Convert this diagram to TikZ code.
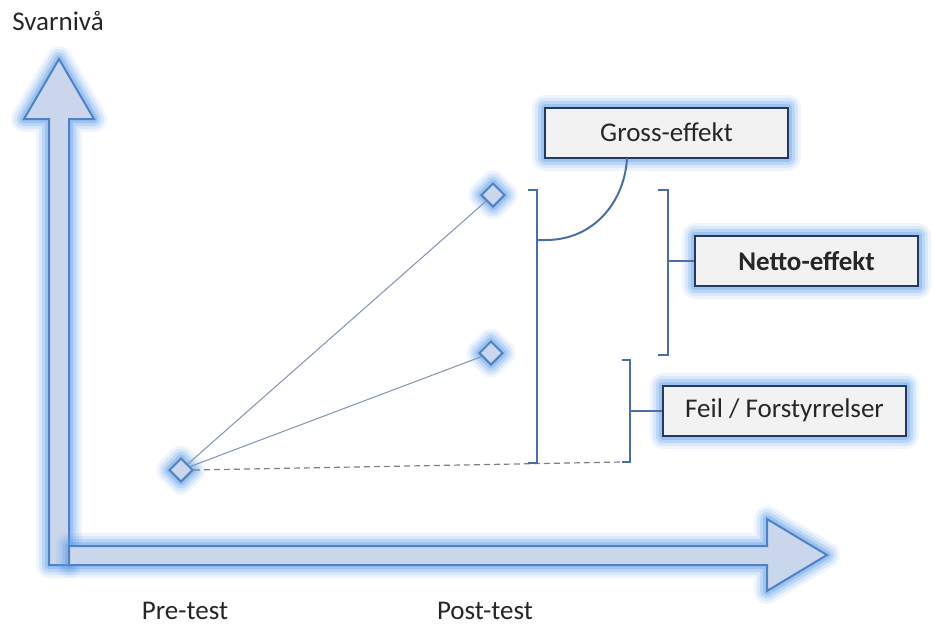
\documentclass[tikz,border=0pt]{standalone}
\usepackage{fontspec}
\setmainfont{Carlito}
\usetikzlibrary{shapes.geometric}
\definecolor{arrowfill}{HTML}{C9D6EC}
\definecolor{arrowline}{HTML}{4F81C7}
\definecolor{glowc}{HTML}{5A9AE8}
\definecolor{boxfill}{HTML}{F2F2F2}
\definecolor{boxline}{HTML}{1F3864}
\definecolor{brackc}{HTML}{4A6FA8}
\definecolor{linkc}{HTML}{8093B0}
\definecolor{txtc}{HTML}{262626}
\tikzset{
  glowing/.style={
    preaction={draw=glowc, line width=13pt, opacity=0.10, line join=round},
    preaction={draw=glowc, line width=10pt, opacity=0.15, line join=round},
    preaction={draw=glowc, line width=7pt, opacity=0.22, line join=round},
    preaction={draw=glowc, line width=4pt, opacity=0.32, line join=round}},
  axisarrow/.style={glowing, fill=arrowfill, draw=arrowline, line width=1pt, line join=miter},
  point/.style={glowing, diamond, draw=arrowline, fill=arrowfill, line width=1pt,
    minimum width=12pt, minimum height=12pt, inner sep=0pt},
  labelbox/.style={glowing, rectangle, draw=boxline, fill=boxfill, line width=1pt,
    minimum height=25pt, inner sep=0pt, text=txtc, font=\fontsize{13.5}{16}\selectfont},
  bracket/.style={draw=brackc, line width=1pt},
  link/.style={draw=linkc, line width=0.5pt},
  plain/.style={text=txtc, font=\fontsize{13.5}{16}\selectfont, inner sep=0pt}
}
\begin{document}
\begin{tikzpicture}[x=0.5pt, y=-0.5pt]
\useasboundingbox (0,0) rectangle (933,628);
% axes
\draw[axisarrow] (49,565) -- (49,119) -- (24,119) -- (59,59) -- (94,119) -- (69,119) -- (69,565) -- cycle;
\draw[axisarrow] (69,546) -- (767,546) -- (767,519) -- (827,555) -- (767,591) -- (767,565) -- (69,565) -- cycle;
% axis labels
\node[plain] (svar) at (58,21) {Svarnivå};
\node[plain] (pre) at (185,611) {Pre-test};
\node[plain] (post) at (485,611) {Post-test};
% points
\node[point] (p0) at (181,470) {};
\node[point] (p1) at (493,195) {};
\node[point] (p2) at (491,353) {};
% boxes
\node[labelbox, minimum width=121.5pt] (gross) at (666.5,132.5) {Gross-effekt};
\node[labelbox, minimum width=111.5pt] (netto) at (806.5,261) {\bfseries Netto-effekt};
\node[labelbox, minimum width=121.5pt] (feil) at (784.5,410.5) {Feil / Forstyrrelser};
% bracket coordinates
\coordinate (gt) at (528,190);
\coordinate (gm) at (537,240);
\coordinate (gb) at (528,463);
\coordinate (gc) at (627,158);
\coordinate (nt) at (658,190);
\coordinate (nm) at (668,261);
\coordinate (nb) at (658,355);
\coordinate (ft) at (622,360);
\coordinate (fm) at (630,410.5);
\coordinate (fb) at (622,462);
% links
\draw[link] (p0) -- (p1);
\draw[link] (p0) -- (p2);
\draw[draw=gray, line width=0.6pt, dash pattern=on 3pt off 2pt] (p0.east) -- (fb);
% brackets
\draw[bracket] (gt) -- (537,190) -- (537,463) -- (gb);
\draw[bracket] (gm) -- (546,240) .. controls (595,240) and (625,200) .. (gc);
\draw[bracket] (nt) -- (668,190) -- (668,355) -- (nb);
\draw[bracket] (nm) -- (netto.west);
\draw[bracket] (ft) -- (630,360) -- (630,462) -- (fb);
\draw[bracket] (fm) -- (feil.west);
\end{tikzpicture}
\end{document}
